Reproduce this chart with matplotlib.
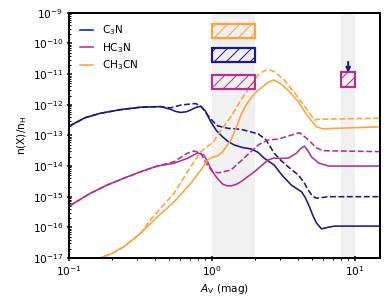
import numpy as np
import matplotlib.pyplot as plt
from matplotlib.patches import Rectangle

# colours
c_c3n = '#1b1a8a'
c_hc3n = '#b1338f'
c_ch3cn = '#fca43a'

# C3N (log10 abundance vs Av)
av_c3n = [0.1, 0.13, 0.165, 0.229, 0.316, 0.437, 0.515, 0.56, 0.605, 0.66, 0.711, 0.78, 0.838, 0.90, 0.98,
          1.08, 1.19, 1.3, 1.43, 1.65, 1.88, 2.1, 2.32, 2.73, 3.1, 3.6, 4.24, 4.5, 4.82, 5.1, 5.4, 5.86, 6.5, 7.23, 15]
c3n = [-12.70, -12.42, -12.28, -12.16, -12.08, -12.06, -12.15, -12.22, -12.25, -12.23, -12.17, -12.08, -12.05,
       -12.2, -12.55, -12.85, -13.05, -13.2, -13.31, -13.4, -13.44, -13.55, -13.74, -13.97, -14.3, -14.62, -14.84,
       -15.02, -15.33, -15.62, -15.86, -16.05, -16.0, -15.96, -15.96]
av_c3n_d = [0.1, 0.13, 0.165, 0.229, 0.316, 0.437, 0.515, 0.605, 0.69, 0.77, 0.84, 0.94, 1.02, 1.10,
            1.30, 1.60, 2.11, 2.4, 2.73, 3.05, 3.41, 4.02, 4.4, 4.72, 5.05, 5.4, 6.56, 15]
c3n_d = [-12.70, -12.42, -12.28, -12.16, -12.08, -12.06, -12.10, -12.01, -11.98, -11.96, -12.05, -12.35,
         -12.55, -12.69, -12.77, -12.80, -12.95, -13.15, -13.58, -13.82, -14.02, -14.29, -14.52, -14.78,
         -14.98, -15.05, -15.0, -15.0]

# HC3N
av_hc3n = [0.1, 0.141, 0.185, 0.241, 0.316, 0.415, 0.543, 0.674, 0.793, 0.879, 0.93, 0.984, 1.05, 1.12, 1.19,
           1.27, 1.36, 1.48, 1.60, 1.98, 2.48, 2.73, 3.1, 3.43, 3.91, 4.2, 4.45, 4.7, 4.98, 5.58, 6.56, 15]
hc3n = [-15.31, -14.89, -14.62, -14.40, -14.19, -14.0, -13.91, -13.75, -13.57, -13.64, -13.85, -14.08, -14.3,
        -14.46, -14.59, -14.64, -14.65, -14.6, -14.51, -14.19, -13.8, -13.74, -13.75, -13.74, -13.58, -13.42,
        -13.35, -13.5, -13.7, -13.9, -14.0, -14.0]
av_hc3n_d = [0.1, 0.141, 0.185, 0.241, 0.316, 0.415, 0.543, 0.674, 0.75, 0.838, 0.91, 1.01, 1.12,
             1.36, 1.68, 2.11, 2.48, 2.92, 3.6, 4.11, 4.75, 5.4, 6.05, 15]
hc3n_d = [-15.31, -14.89, -14.62, -14.40, -14.19, -14.0, -13.86, -13.58, -13.51, -13.58, -13.91, -14.19, -14.22,
          -14.13, -13.74, -13.31, -13.15, -13.12, -12.99, -12.91, -13.15, -13.41, -13.5, -13.53]

# CH3CN
av_ch3cn = [0.155, 0.2, 0.241, 0.316, 0.415, 0.543, 0.711, 0.838, 0.934, 1.0, 1.097, 1.19, 1.36, 1.48,
            1.60, 1.74, 1.88, 2.0, 2.21, 2.45, 2.7, 3.0, 3.41, 4.02, 4.72, 5.40, 6.02, 7.23, 15]
ch3cn = [-17.05, -16.85, -16.64, -16.2, -15.66, -15.17, -14.57, -14.13, -13.80, -13.72, -13.67, -13.53, -13.15,
         -12.75, -12.33, -12.0, -11.78, -11.62, -11.45, -11.28, -11.19, -11.3, -11.52, -11.9, -12.39, -12.72,
         -12.79, -12.77, -12.72]
av_ch3cn_d = [0.155, 0.2, 0.241, 0.316, 0.371, 0.543, 0.711, 0.838, 1.03, 1.16, 1.36, 1.60, 1.88,
              2.1, 2.25, 2.4, 2.55, 2.73, 3.21, 3.80, 4.47, 5.25, 5.6, 15]
ch3cn_d = [-17.05, -16.85, -16.64, -16.2, -15.76, -14.89, -14.02, -13.53, -13.2, -12.82, -12.39, -11.84, -11.35,
           -11.03, -10.93, -10.87, -10.86, -10.92, -11.19, -11.62, -12.06, -12.5, -12.47, -12.44]

# observed ranges: (Av low, Av high, log low, log high)
obs_ch3cn = (1, 2, -9.82, -9.37)
obs_c3n = (1, 2, -10.61, -10.15)
obs_hc3n = (1, 2, -11.48, -11.03)
obs_hc3n_b = (8, 10, -11.43, -10.93)
c3n_limit = (9.0, -10.6, -10.95)

plt.rcParams['font.size'] = 10.5
plt.rcParams['hatch.linewidth'] = 1.0

fig = plt.figure(figsize=(390 / 72, 306 / 72), dpi=72)
ax = fig.add_axes([0.177, 0.157, 0.797, 0.801])

ax.axvspan(1, 2, color='#f0f0f0', zorder=0, lw=0)
ax.axvspan(8, 10, color='#f0f0f0', zorder=0, lw=0)

lw = 1.6
ax.plot(av_c3n, 10 ** np.array(c3n), color=c_c3n, lw=lw, label='C$_3$N')
ax.plot(av_c3n_d, 10 ** np.array(c3n_d), color=c_c3n, lw=lw, ls='--')
ax.plot(av_hc3n, 10 ** np.array(hc3n), color=c_hc3n, lw=lw, label='HC$_3$N')
ax.plot(av_hc3n_d, 10 ** np.array(hc3n_d), color=c_hc3n, lw=lw, ls='--')
ax.plot(av_ch3cn, 10 ** np.array(ch3cn), color=c_ch3cn, lw=lw, label='CH$_3$CN')
ax.plot(av_ch3cn_d, 10 ** np.array(ch3cn_d), color=c_ch3cn, lw=lw, ls='--')

for (x0, x1, y0, y1), c in [(obs_ch3cn, c_ch3cn), (obs_c3n, c_c3n),
                            (obs_hc3n, c_hc3n), (obs_hc3n_b, c_hc3n)]:
    ax.add_patch(Rectangle((x0, 10 ** y0), x1 - x0, 10 ** y1 - 10 ** y0,
                           facecolor='none', edgecolor=c, hatch='//', lw=2.2, zorder=3))

xa, ya, yb = c3n_limit
ax.annotate('', xy=(xa, 10 ** yb), xytext=(xa, 10 ** ya),
            arrowprops=dict(arrowstyle='-|>', color=c_c3n, lw=2, mutation_scale=9,
                            shrinkA=0, shrinkB=0), zorder=4)

ax.set_xscale('log')
ax.set_yscale('log')
ax.set_xlim(0.1, 15)
ax.set_ylim(1e-17, 1e-9)
ax.set_yticks([10.0 ** k for k in range(-17, -8)])
ax.set_xlabel(r'$A_{\rm V}$ (mag)')
ax.set_ylabel(r'n(X)/n$_{\rm H}$')
ax.tick_params(which='major', direction='inout', length=5, width=1.5)
ax.tick_params(which='minor', direction='inout', length=3, width=1)
for s in ax.spines.values():
    s.set_linewidth(2)

ax.legend(loc='upper left', frameon=False, handlelength=1.3, labelspacing=0.35,
          borderaxespad=0.6)

fig.savefig('out.png', dpi=72)
